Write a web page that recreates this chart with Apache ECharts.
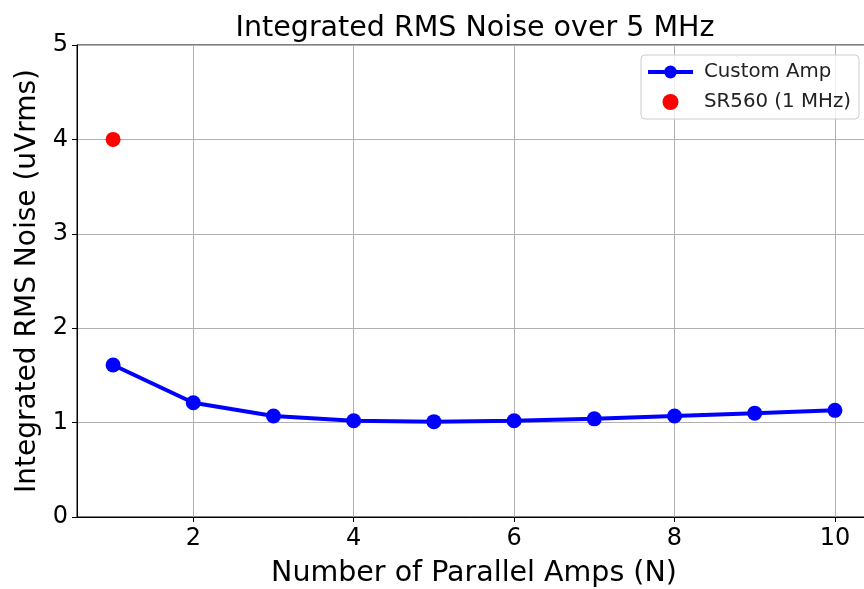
<!DOCTYPE html>
<html>
<head>
<meta charset="utf-8">
<script src="https://cdn.jsdelivr.net/npm/echarts@6/dist/echarts.min.js"></script>
<style>html,body{margin:0;padding:0;background:#fff}#c{width:864px;height:589px}</style>
</head>
<body>
<div id="c"></div>
<script>
const nAmps = [1, 2, 3, 4, 5, 6, 7, 8, 9, 10];
const customAmpNoise = [1.61, 1.21, 1.07, 1.02, 1.01, 1.02, 1.04, 1.07, 1.10, 1.13];
const sr560Point = [[1, 4.0]];
const xTicks = [2, 4, 6, 8, 10];

const FONT = '"DejaVu Sans", sans-serif';
const chart = echarts.init(document.getElementById('c'), null, {renderer: 'canvas'});
chart.setOption({
  animation: false,
  backgroundColor: '#fff',
  title: {
    text: 'Integrated RMS Noise over 5 MHz',
    left: 470, textAlign: 'center', top: 9,
    textStyle: {fontFamily: FONT, fontSize: 28.5, fontWeight: 'normal', color: '#000'}
  },
  grid: {left: 77, width: 794, top: 45, height: 472, show: true, borderColor: '#000', borderWidth: 1,
         containLabel: false, outerBoundsMode: 'none'},
  legend: {
    orient: 'vertical', left: 641, top: 55,
    backgroundColor: 'rgba(255,255,255,0.8)', borderColor: '#ccc', borderWidth: 1, borderRadius: 4,
    padding: [7, 8, 7, 5], itemGap: 10, itemWidth: 45, itemHeight: 16,
    textStyle: {fontFamily: FONT, fontSize: 19.8, color: '#222', padding: [0, 0, 0, 6]},
    data: [
      {name: 'Custom Amp', lineStyle: {width: 4}},
      {name: 'SR560 (1 MHz)'}
    ]
  },
  xAxis: {
    type: 'value', min: 0.55, max: 10.45,
    name: 'Number of Parallel Amps (N)', nameLocation: 'middle', nameGap: 42,
    nameTextStyle: {fontFamily: FONT, fontSize: 28.5, color: '#000'},
    axisLine: {show: true, lineStyle: {color: '#000', width: 1}},
    axisTick: {show: true, length: 5, customValues: xTicks, lineStyle: {color: '#000'}},
    axisLabel: {customValues: xTicks, fontFamily: FONT, fontSize: 24, color: '#000', margin: 10},
    splitLine: {show: true, lineStyle: {color: '#b0b0b0', width: 1}}
  },
  yAxis: {
    type: 'value', min: 0, max: 5, interval: 1,
    name: 'Integrated RMS Noise (uVrms)', nameLocation: 'middle', nameGap: 26,
    nameTextStyle: {fontFamily: FONT, fontSize: 28, color: '#000'},
    axisLine: {show: true, lineStyle: {color: '#000', width: 1}},
    axisTick: {show: true, length: 5, lineStyle: {color: '#000'}},
    axisLabel: {fontFamily: FONT, fontSize: 24, color: '#000', margin: 9},
    splitLine: {show: true, lineStyle: {color: '#b0b0b0', width: 1}}
  },
  series: [
    {
      name: 'Custom Amp', type: 'line',
      data: nAmps.map((n, i) => [n, customAmpNoise[i]]),
      symbol: 'circle', symbolSize: 15,
      lineStyle: {color: '#0000ff', width: 4},
      itemStyle: {color: '#0000ff', opacity: 1}
    },
    {
      name: 'SR560 (1 MHz)', type: 'scatter',
      data: sr560Point, symbol: 'circle', symbolSize: 15,
      itemStyle: {color: '#ff0000', opacity: 1}
    }
  ]
});
</script>
</body>
</html>
